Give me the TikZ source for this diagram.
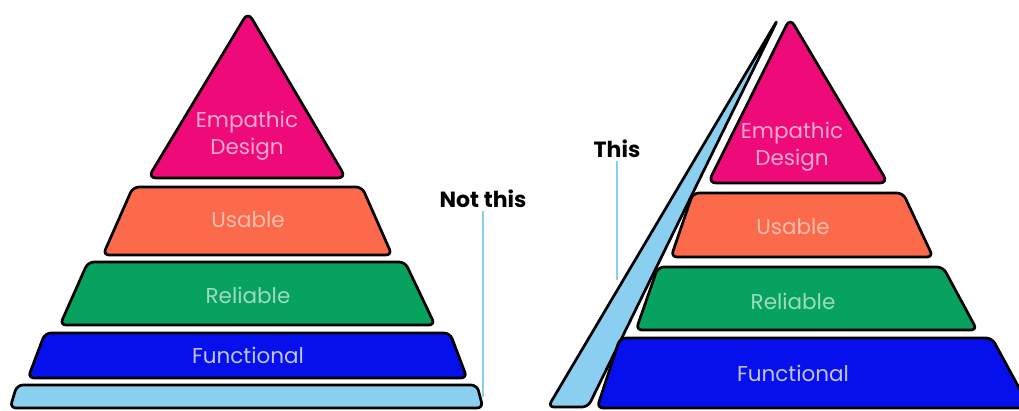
\documentclass[tikz,border=0pt]{standalone}
\usepackage{fontspec}
\setmainfont{Poppins}
\usetikzlibrary{positioning}
\definecolor{empink}{HTML}{EE0A78}
\definecolor{usorange}{HTML}{FB6A4A}
\definecolor{relgreen}{HTML}{07A25F}
\definecolor{funblue}{HTML}{0510EC}
\definecolor{baseblue}{HTML}{8ACFEF}
\tikzset{
  layer/.style={draw=black,line width=2.7pt,rounded corners=6pt,line join=round},
  lbl/.style={font=\fontsize{21.5}{27}\selectfont,align=center},
  tag/.style={font=\bfseries\fontsize{22}{24}\selectfont},
  tagline/.style={draw=baseblue,line width=2.5pt}
}
\begin{document}
\begin{tikzpicture}[x=1pt,y=-1pt]
  \useasboundingbox[fill=white] (0,0) rectangle (1019,410);
  % Not this: the usual pyramid on a flat base
  \draw[layer,fill=baseblue] (10,408) -- (17,385) -- (477,385) -- (483,408) -- cycle; % base
  \draw[layer,fill=funblue] (28,378) -- (45,333) -- (450,333) -- (467,378) -- cycle;
  \draw[layer,fill=relgreen] (60,325) -- (88,262) -- (405,262) -- (435,325) -- cycle;
  \draw[layer,fill=usorange] (103,255) -- (133,187) -- (362,187) -- (392,255) -- cycle;
  \draw[layer,fill=empink,rounded corners=8pt] (148,178) -- (248,12) -- (346,178) -- cycle;
  \node[lbl,text=empink!35!white] (lempathic) at (247,136) {Empathic\\Design};
  \node[lbl,text=usorange!45!white] (lusable) at (248,220) {Usable};
  \node[lbl,text=relgreen!40!white] (lreliable) at (248,295) {Reliable};
  \node[lbl,text=funblue!25!white] (lfunctional) at (248,355) {Functional};
  \node[tag] (notthis) at (483,199) {Not this};
  \coordinate (notthisend) at (483,397);
  \draw[tagline] (notthis.south) -- (notthisend);
  % This: the base leans along the side
  \draw[layer,fill=baseblue] (548,407) -- (778,19) -- (588,407) -- cycle; % slanted base
  \draw[layer,fill=funblue] (597,408) -- (620,338) -- (992,338) -- (1030,408) -- cycle;
  \draw[layer,fill=relgreen] (636,330) -- (658,267) -- (943,267) -- (977,330) -- cycle;
  \draw[layer,fill=usorange] (671,257) -- (693,193) -- (903,193) -- (933,257) -- cycle;
  \draw[layer,fill=empink,rounded corners=8pt] (708,183) -- (790,18) -- (888,183) -- cycle;
  \node[lbl,text=empink!35!white] (rempathic) at (792,147) {Empathic\\Design};
  \node[lbl,text=usorange!45!white] (rusable) at (793,227) {Usable};
  \node[lbl,text=relgreen!40!white] (rreliable) at (793,301) {Reliable};
  \node[lbl,text=funblue!25!white] (rfunctional) at (793,373) {Functional};
  \node[tag] (this) at (617,149) {This};
  \coordinate (thisend) at (617,280);
  \draw[tagline] (this.south) -- (thisend);
\end{tikzpicture}
\end{document}
